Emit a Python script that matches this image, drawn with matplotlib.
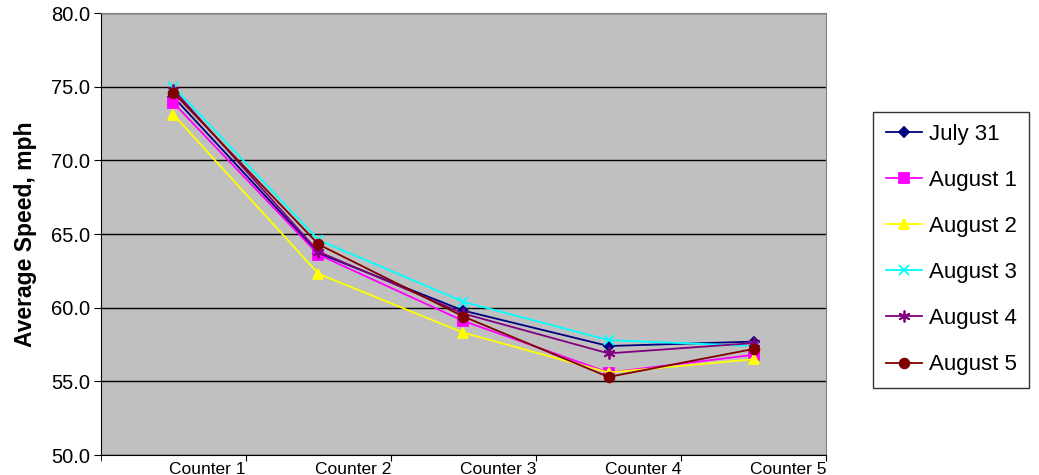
import matplotlib
matplotlib.use('Agg')
import matplotlib.pyplot as plt

plt.rcParams['font.family'] = ['Liberation Sans', 'DejaVu Sans']

counters = ['Counter 1', 'Counter 2', 'Counter 3', 'Counter 4', 'Counter 5']

july31 = [74.3, 63.7, 59.8, 57.4, 57.7]
aug1 = [73.9, 63.6, 59.1, 55.6, 56.8]
aug2 = [73.1, 62.3, 58.3, 55.6, 56.5]
aug3 = [75.0, 64.6, 60.4, 57.8, 57.4]
aug4 = [74.8, 63.8, 59.6, 56.9, 57.6]
aug5 = [74.6, 64.3, 59.4, 55.3, 57.2]

series = [
    ('July 31', july31, '#000080', 'D', 5.5),
    ('August 1', aug1, '#FF00FF', 's', 6.5),
    ('August 2', aug2, '#FFFF00', '^', 7.5),
    ('August 3', aug3, '#00FFFF', 'x', 7),
    ('August 4', aug4, '#800080', (6, 2, 0), 8.5),
    ('August 5', aug5, '#800000', 'o', 7),
]

fig = plt.figure(figsize=(10.39, 4.75), dpi=100)
ax = fig.add_axes([0.0972, 0.042, 0.6978, 0.9305])
ax.set_facecolor('#C0C0C0')

x = list(range(len(counters)))
for name, vals, color, marker, ms in series:
    ax.plot(x, vals, color=color, marker=marker, markersize=ms,
            linewidth=1.3, markeredgewidth=1.3, label=name)

ax.set_xlim(-0.5, 4.5)
ax.set_ylim(50, 80)
ax.set_yticks([50, 55, 60, 65, 70, 75, 80])
ax.set_yticklabels(['%.1f' % v for v in [50, 55, 60, 65, 70, 75, 80]],
                   fontsize=14.5)
ax.yaxis.grid(True, color='black', linewidth=1.0)
ax.set_axisbelow(True)

# category labels sit right-aligned against the boundary ticks
ax.set_xticks([i + 0.5 for i in x])
ax.set_xticklabels(counters, fontsize=12.5, ha='right')
ax.set_xticks([-0.5], minor=True)
ax.tick_params(axis='x', which='both', length=4, pad=1)
ax.tick_params(axis='y', length=5, pad=3)

for side in ['top', 'right']:
    ax.spines[side].set_color('#808080')
for side in ['left', 'bottom']:
    ax.spines[side].set_color('black')

ax.set_ylabel('Average Speed, mph', fontsize=16.5, fontweight='bold', labelpad=10)

leg = ax.legend(loc='center left', bbox_to_anchor=(1.05, 0.465), fontsize=16,
                frameon=True, fancybox=False, edgecolor='black',
                borderpad=0.55, labelspacing=1.13, handlelength=1.65,
                handletextpad=0.3)
leg.get_frame().set_linewidth(1.0)

fig.savefig('out.png', dpi=100)
